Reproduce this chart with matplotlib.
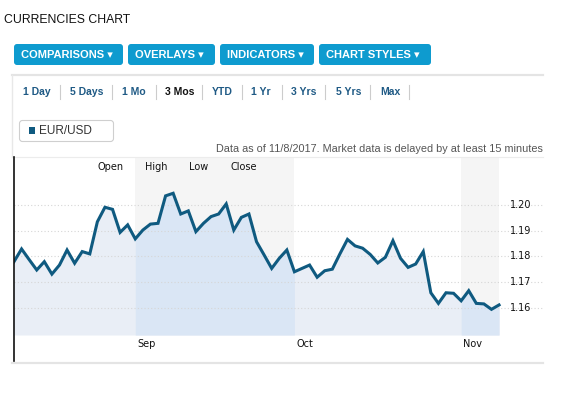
"""Recreate the EUR/USD 3-month currencies chart widget as a static PNG."""

import matplotlib

matplotlib.use("Agg")
import matplotlib.pyplot as plt  # noqa: E402
import numpy as np  # noqa: E402
import pandas as pd  # noqa: E402
from matplotlib.lines import Line2D  # noqa: E402
from matplotlib.patches import FancyBboxPatch, Rectangle  # noqa: E402

# ---- data -------------------------------------------------------------------
dates = pd.bdate_range("2017-08-10", "2017-11-08")
eurusd = [
    1.1780, 1.1829, 1.1788, 1.1748, 1.1780, 1.1732, 1.1767, 1.1825, 1.1774, 1.1819,
    1.1810, 1.1934, 1.1990, 1.1982, 1.1893, 1.1922, 1.1868, 1.1902, 1.1925, 1.1928,
    1.2034, 1.2044, 1.1964, 1.1976, 1.1896, 1.1928, 1.1954, 1.1964, 1.2003, 1.1902,
    1.1951, 1.1964, 1.1857, 1.1806, 1.1754, 1.1793, 1.1825, 1.1741, 1.1754, 1.1767,
    1.1720, 1.1745, 1.1751, 1.1810, 1.1866, 1.1841, 1.1832, 1.1808, 1.1775, 1.1797,
    1.1861, 1.1793, 1.1758, 1.1771, 1.1819, 1.1660, 1.1619, 1.1660, 1.1658, 1.1629,
    1.1668, 1.1619, 1.1617, 1.1596, 1.1613,
]
y_ticks = [1.16, 1.17, 1.18, 1.19, 1.20]
month_labels = ["Sep", "Oct", "Nov"]
buttons = ["COMPARISONS", "OVERLAYS", "INDICATORS", "CHART STYLES"]
ranges = ["1 Day", "5 Days", "1 Mo", "3 Mos", "YTD", "1 Yr", "3 Yrs", "5 Yrs", "Max"]
ohlc_labels = ["Open", "High", "Low", "Close"]

# ---- styling ----------------------------------------------------------------
W, H = 587, 394
LINE = "#0f5a80"
FILL_LIGHT = "#e9eef6"
FILL_DARK = "#dae6f5"
BAND_BG = "#f5f5f5"
BTN = "#0e9bcf"
LINK = "#1f5a85"
SANS = ["Liberation Sans", "DejaVu Sans"]
CHART_FONT = "DejaVu Sans"


def fx(px):
    return px / W


def fy(py):
    return 1 - py / H


x = np.arange(len(eurusd))
y = np.array(eurusd)
month_start = [i for i in range(1, len(dates)) if dates[i].month != dates[i - 1].month]

fig = plt.figure(figsize=(W / 100, H / 100), dpi=100)
fig.patch.set_facecolor("white")

# main plot area, pixel box 14..543 x 157..335
ax = fig.add_axes([fx(14), fy(335), fx(543) - fx(14), fy(157) - fy(335)])
ax.set_xlim(0, 69.8)
ax.set_ylim(1.1497, 1.2184)
for s in ax.spines.values():
    s.set_visible(False)
ax.set_xticks([])
ax.set_yticks([])

# alternating month backgrounds (Sep and Nov shaded)
shaded = [(month_start[0], month_start[1]), (month_start[2], len(x) - 1)]
for a, b in shaded:
    ax.axvspan(a, b, color=BAND_BG, lw=0, zorder=0)

ax.fill_between(x, y, 1.1497, color=FILL_LIGHT, lw=0, zorder=1)
for a, b in shaded:
    ax.fill_between(x[a:b + 1], y[a:b + 1], 1.1497, color=FILL_DARK, lw=0, zorder=1)

for t in y_ticks:
    ax.axhline(t, color="#d6d6d6", lw=0.8, ls=(0, (1, 2)), zorder=2)
    ax.text(66.9, t, f"{t:.2f}", ha="center", va="center", fontsize=7,
            family=CHART_FONT, color="#111111", zorder=4)

ax.plot(x, y, color=LINE, lw=2.2, solid_joinstyle="miter", zorder=3)

for i, lab in zip(month_start, month_labels):
    ax.annotate(lab, xy=(i, 0), xycoords=("data", "axes fraction"),
                xytext=(2, -4), textcoords="offset pixels", ha="left", va="top",
                fontsize=7, family=CHART_FONT, color="#111111", annotation_clip=False)

# overlay in pixel coordinates for the widget chrome
ov = fig.add_axes([0, 0, 1, 1])
ov.set_xlim(0, W)
ov.set_ylim(H, 0)
ov.axis("off")
ov.patch.set_alpha(0)

ov.text(4, 20, "CURRENCIES CHART", fontsize=8.8, family=SANS, color="#111111",
        va="center", ha="left")

btn_edges = [(14, 123), (128, 215), (220, 314), (319, 431)]
for (x0, x1), lab in zip(btn_edges, buttons):
    ov.add_patch(FancyBboxPatch((x0, 44), x1 - x0, 21,
                                boxstyle="round,pad=0,rounding_size=3",
                                fc=BTN, ec="none"))
    ov.text(x0 + 7, 54.5, lab + " \u25be", fontsize=8, fontweight="bold", family=SANS,
            color="white", va="center", ha="left")

# panel borders
ov.add_line(Line2D([12, 543], [75, 75], color="#e4e4e4", lw=1.6))
ov.add_line(Line2D([12, 12], [75, 157], color="#e8e8e8", lw=1))
ov.add_line(Line2D([12, 543], [157, 157], color="#ececec", lw=0.8))
ov.add_line(Line2D([12, 543], [363, 363], color="#e4e4e4", lw=1.6))
ov.add_line(Line2D([13.5, 13.5], [157, 361], color="#111111", lw=1.2))

link_x = [23, 70, 122, 165, 212, 251, 291, 336, 380]
sep_x = [60, 112, 156, 202, 242, 282, 325, 370, 409]
for lx, lab in zip(link_x, ranges):
    ov.text(lx, 92, lab, fontsize=7.5, fontweight="bold", family=SANS,
            color="#111111" if lab == "3 Mos" else LINK, va="center", ha="left")
for sx in sep_x:
    ov.add_line(Line2D([sx, sx], [85, 99], color="#cccccc", lw=0.8))

# legend chip
ov.add_patch(FancyBboxPatch((19.5, 120.5), 94, 21, boxstyle="round,pad=0,rounding_size=3",
                            fc="white", ec="#cfcfcf", lw=0.8))
ov.add_patch(Rectangle((28.5, 127.3), 6.7, 6.7, fc=LINE, ec="none"))
ov.text(39.5, 130.5, "EUR/USD", fontsize=8.5, family=SANS, color="#333333",
        va="center", ha="left")

ov.text(543, 149, "Data as of 11/8/2017. Market data is delayed by at least 15 minutes",
        fontsize=7.8, family=SANS, color="#555555", va="center", ha="right")

for cx, lab in zip([111, 156.5, 199, 243.5], ohlc_labels):
    ov.text(cx, 167, lab, fontsize=7, family=CHART_FONT, color="#111111",
            va="center", ha="center")

fig.savefig("out.png", dpi=100)
